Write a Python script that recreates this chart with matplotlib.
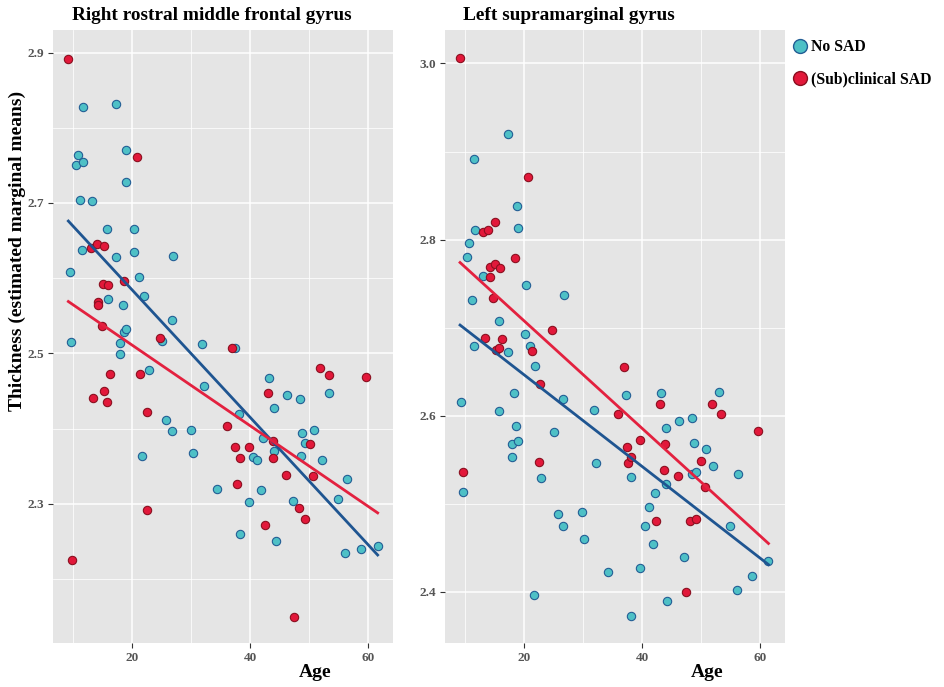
import matplotlib.pyplot as plt
from matplotlib.lines import Line2D
from matplotlib.ticker import MultipleLocator

plt.rcParams["font.family"] = ["Liberation Serif", "DejaVu Serif"]

# Right rostral middle frontal gyrus
rmf_age_no = [9.4, 9.7, 10.5, 10.8, 11.2, 11.5, 11.6, 11.6, 13.2, 15.8, 15.9, 17.3, 17.3, 17.9, 17.9,
              18.4, 18.7, 18.9, 19.0, 19.0, 20.3, 20.4, 21.1, 21.7, 22.0, 22.9, 25.1, 25.8, 26.7, 26.7,
              26.9, 29.9, 30.3, 31.9, 32.2, 34.3, 37.4, 38.1, 38.3, 39.8, 40.5, 41.2, 41.9, 42.2, 43.2,
              44.1, 44.1, 44.4, 46.3, 47.2, 48.5, 48.6, 48.8, 49.3, 50.9, 52.1, 53.3, 54.9, 56.1, 56.4,
              58.7, 61.6]
rmf_th_no = [2.608, 2.515, 2.751, 2.764, 2.704, 2.637, 2.828, 2.755, 2.703, 2.665, 2.573, 2.831, 2.628,
             2.514, 2.499, 2.564, 2.528, 2.770, 2.728, 2.532, 2.635, 2.665, 2.601, 2.364, 2.576, 2.478,
             2.516, 2.412, 2.544, 2.397, 2.630, 2.398, 2.368, 2.512, 2.457, 2.320, 2.507, 2.420, 2.260,
             2.302, 2.362, 2.358, 2.319, 2.388, 2.467, 2.428, 2.370, 2.251, 2.445, 2.304, 2.440, 2.364,
             2.394, 2.381, 2.398, 2.358, 2.448, 2.306, 2.235, 2.333, 2.240, 2.244]
rmf_age_sad = [9.2, 9.8, 13.0, 13.3, 14.0, 14.3, 14.3, 14.9, 15.1, 15.2, 15.3, 15.8, 16.0, 16.3, 18.6,
               20.8, 21.4, 22.6, 22.6, 24.8, 36.1, 37.0, 37.5, 37.8, 38.2, 39.8, 42.5, 43.1, 43.8, 43.8,
               46.1, 47.5, 48.3, 49.3, 50.1, 50.7, 51.9, 53.4, 59.7]
rmf_th_sad = [2.892, 2.225, 2.640, 2.441, 2.646, 2.568, 2.564, 2.536, 2.592, 2.643, 2.450, 2.435, 2.591,
              2.473, 2.596, 2.761, 2.472, 2.422, 2.292, 2.520, 2.403, 2.507, 2.376, 2.327, 2.361, 2.375,
              2.272, 2.447, 2.384, 2.361, 2.339, 2.150, 2.294, 2.280, 2.379, 2.337, 2.481, 2.471, 2.468]
rmf_fit_age = [9.2, 61.6]
rmf_fit_no = [2.676, 2.232]
rmf_fit_sad = [2.569, 2.288]

# Left supramarginal gyrus
smg_age_no = [9.3, 9.6, 10.4, 10.7, 11.1, 11.5, 11.5, 11.6, 13.1, 15.7, 15.8, 17.2, 17.2, 17.9, 17.9,
              18.3, 18.6, 18.8, 18.9, 18.9, 20.2, 20.3, 21.0, 21.6, 21.8, 22.8, 25.0, 25.7, 26.6, 26.6,
              26.7, 29.8, 30.2, 31.8, 32.2, 34.2, 37.3, 38.1, 38.1, 39.7, 40.4, 41.1, 41.8, 42.1, 43.2,
              44.0, 44.0, 44.2, 46.3, 47.1, 48.4, 48.5, 48.7, 49.2, 50.8, 52.0, 53.1, 54.9, 56.0, 56.3,
              58.6, 61.4]
smg_th_no = [2.616, 2.513, 2.780, 2.796, 2.731, 2.892, 2.679, 2.811, 2.759, 2.708, 2.605, 2.920, 2.672,
             2.568, 2.553, 2.626, 2.588, 2.838, 2.813, 2.571, 2.693, 2.748, 2.679, 2.396, 2.656, 2.529,
             2.582, 2.489, 2.619, 2.475, 2.737, 2.491, 2.460, 2.606, 2.546, 2.423, 2.624, 2.531, 2.373,
             2.427, 2.475, 2.496, 2.454, 2.512, 2.626, 2.586, 2.522, 2.390, 2.594, 2.440, 2.597, 2.534,
             2.569, 2.536, 2.562, 2.543, 2.627, 2.475, 2.402, 2.534, 2.418, 2.435]
smg_age_sad = [9.1, 9.7, 13.0, 13.3, 13.9, 14.2, 14.2, 14.7, 15.0, 15.1, 15.3, 15.8, 15.9, 16.3, 18.5,
               20.7, 21.3, 22.6, 22.7, 24.7, 35.9, 36.9, 37.5, 37.6, 38.1, 39.7, 42.4, 43.1, 43.7, 43.8,
               46.0, 47.4, 48.1, 49.2, 49.9, 50.7, 51.9, 53.3, 59.6]
smg_th_sad = [3.006, 2.536, 2.809, 2.688, 2.811, 2.769, 2.757, 2.734, 2.772, 2.820, 2.675, 2.677, 2.768,
              2.687, 2.779, 2.871, 2.673, 2.548, 2.636, 2.697, 2.602, 2.655, 2.565, 2.546, 2.553, 2.573,
              2.481, 2.613, 2.538, 2.568, 2.532, 2.400, 2.481, 2.483, 2.549, 2.519, 2.613, 2.602, 2.583]
smg_fit_age = [9.15, 61.4]
smg_fit_no = [2.703, 2.431]
smg_fit_sad = [2.774, 2.455]

panels = [
    ("Right rostral middle frontal gyrus", rmf_age_no, rmf_th_no, rmf_age_sad, rmf_th_sad,
     rmf_fit_age, rmf_fit_no, rmf_fit_sad, (2.115, 2.93), 2.3),
    ("Left supramarginal gyrus", smg_age_no, smg_th_no, smg_age_sad, smg_th_sad,
     smg_fit_age, smg_fit_no, smg_fit_sad, (2.342, 3.038), 2.4),
]

no_fill, no_edge = "#4EC0C6", "#235E95"
sad_fill, sad_edge = "#E2183A", "#8A1020"
no_line, sad_line = "#1F5591", "#E3213F"

fig = plt.figure(figsize=(9.44, 6.87), dpi=100)
lefts = [53 / 944, 445 / 944]
title_x = [72 / 944, 463 / 944]

for i, (title, a_no, t_no, a_sad, t_sad, f_age, f_no, f_sad, ylim, y0) in enumerate(panels):
    ax = fig.add_axes([lefts[i], 44 / 687, 340 / 944, 613 / 687])
    ax.set_facecolor("#E5E5E5")
    ax.set_xlim(6.6, 64.2)
    ax.set_ylim(*ylim)
    ax.xaxis.set_major_locator(MultipleLocator(20))
    ax.xaxis.set_minor_locator(MultipleLocator(10))
    ax.set_yticks([y0 + 0.2 * k for k in range(4)])
    ax.yaxis.set_minor_locator(MultipleLocator(0.1))
    ax.grid(which="major", color="white", lw=1.1)
    ax.grid(which="minor", color="white", lw=0.55)
    ax.set_axisbelow(True)
    for s in ax.spines.values():
        s.set_visible(False)
    ax.tick_params(which="major", length=3.5, width=0.8, color="#333333",
                   labelsize=9.5, labelcolor="#555555", pad=3)
    ax.tick_params(which="minor", length=0)
    for lab in ax.get_xticklabels() + ax.get_yticklabels():
        lab.set_fontweight("bold")

    ax.scatter(a_no, t_no, s=36, c=no_fill, edgecolors=no_edge, linewidths=0.8, zorder=3)
    ax.scatter(a_sad, t_sad, s=36, c=sad_fill, edgecolors=sad_edge, linewidths=0.8, zorder=3)
    ax.plot(f_age, f_no, color=no_line, lw=2.0, zorder=4)
    ax.plot(f_age, f_sad, color=sad_line, lw=2.0, zorder=4)

    ax.set_xlabel("Age", fontsize=14, fontweight="bold")
    ax.xaxis.set_label_coords(0.77, -0.035)
    fig.text(title_x[i], 1 - 15 / 687, title, fontsize=13.9, fontweight="bold",
             ha="left", va="center")
    if i == 0:
        fig.text(17 / 944, 1 - 251 / 687, "Thickness (estimated marginal means)",
                 rotation=90, fontsize=14, fontweight="bold", ha="center", va="center")

handles = [
    Line2D([], [], ls="none", marker="o", ms=10, mfc=no_fill, mec=no_edge, mew=1.0, label="No SAD"),
    Line2D([], [], ls="none", marker="o", ms=10, mfc=sad_fill, mec=sad_edge, mew=1.0,
           label="(Sub)clinical SAD"),
]
leg = fig.legend(handles=handles, loc="upper left", bbox_to_anchor=(784 / 944, 1 - 33 / 687),
                 frameon=False, handletextpad=0.05, handlelength=1.3, labelspacing=1.05,
                 prop={"weight": "bold", "size": 11.3}, borderaxespad=0)

fig.savefig("out.png", dpi=100)
